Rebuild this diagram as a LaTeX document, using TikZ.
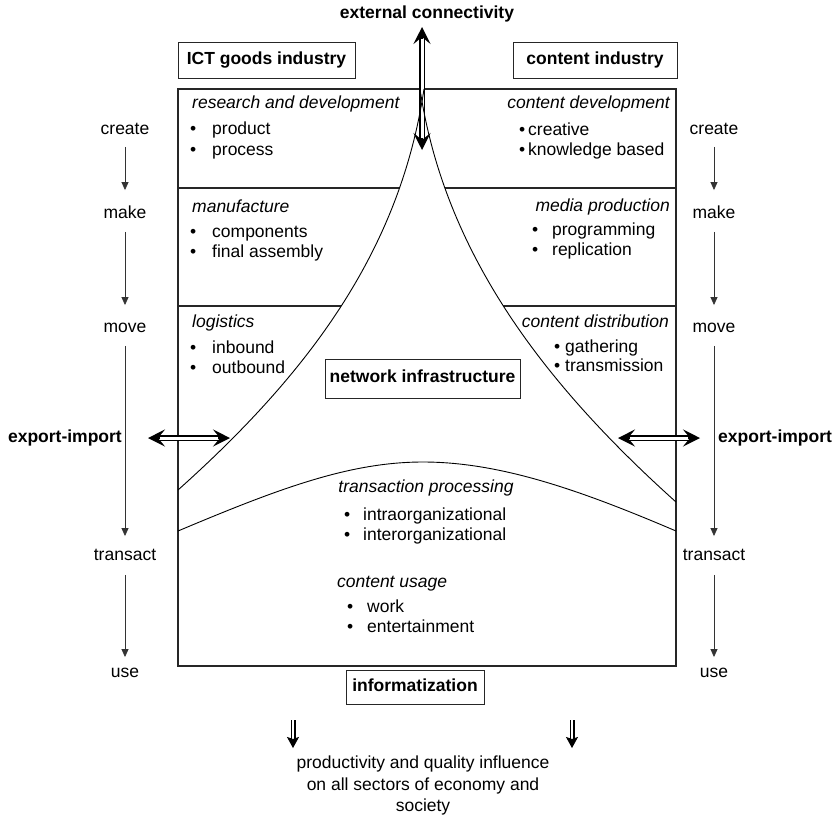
\documentclass[tikz,border=0pt]{standalone}
\usepackage{fontspec}
\setmainfont{Liberation Sans}
\usetikzlibrary{arrows.meta,calc}
\begin{document}
\begin{tikzpicture}[x=1pt,y=-1pt,
  txt/.style={font=\fontsize{17.5}{21}\selectfont, inner sep=0pt, text height=12pt, text depth=3.5pt},
  ital/.style={txt, font=\fontsize{17.5}{21}\selectfont\itshape},
  bold/.style={txt, font=\fontsize{17.5}{21}\selectfont\bfseries},
  bbox/.style={bold, draw=black!85, line width=1pt},
  frame/.style={draw=black!85, line width=1.1pt},
  curve/.style={draw=black, line width=0.9pt},
  colarrow/.style={draw=black!80, line width=0.8pt, -{Triangle[length=8pt,width=7pt]}},
  dbl/.style={draw=black, double=white, double distance=3pt, line width=1.5pt},
  bigtip/.style={draw=black, line width=1.4pt, -{Stealth[length=17pt,width=17pt,inset=7pt]}},
  smalldbl/.style={draw=black, double=white, double distance=2.8pt, line width=1.1pt},
  smalltip/.style={draw=black, line width=0.8pt, -{Stealth[length=11pt,width=12pt,inset=2pt]}}
]
\useasboundingbox (0,0) rectangle (838,817);

% dividers
\draw[frame] (178,188) -- (676,188);
\draw[frame] (178,306) -- (676,306);
% white cusp region hides the dividers
\fill[white] (178,490) .. controls (310,372) and (400,250) .. (424,89) -- (420,89) .. controls (444,250) and (540,380) .. (676,502) -- cycle;
% main frame
\draw[frame] (178,89) rectangle (676,666);

% vertical external connectivity arrow
\coordinate (vt) at (422,27);
\coordinate (vb) at (422,150);
\draw[dbl, shorten <=11pt, shorten >=11pt] (vt) -- (vb);
\draw[bigtip] ($(vt)+(0,12)$) -- (vt);
\draw[bigtip] ($(vb)+(0,-12)$) -- (vb);

% cusp curves
\draw[curve] (178,490) .. controls (310,372) and (400,250) .. (424,89);
\draw[curve] (676,502) .. controls (540,380) and (444,250) .. (420,89);
% lower arc
\draw[curve] (178,531) .. controls (280,488) and (350,462) .. (423,462) .. controls (500,462) and (580,490) .. (676,531);

% top labels
\node[bold] (ext) at (427,14) {external connectivity};
\node[bbox, minimum width=177pt, minimum height=36pt] (ict) at (266.5,60) {ICT goods industry};
\node[bbox, minimum width=164pt, minimum height=36pt] (cont) at (595,60) {content industry};

% left column texts
\node[ital, anchor=west] (rd) at (192,104) {research and development};
\node[txt, anchor=west] (rd1) at (190,130) {\makebox[22pt][l]{•}product};
\node[txt, anchor=west] (rd2) at (190,151) {\makebox[22pt][l]{•}process};
\node[ital, anchor=west] (mf) at (192,208) {manufacture};
\node[txt, anchor=west] (mf1) at (190,233) {\makebox[22pt][l]{•}components};
\node[txt, anchor=west] (mf2) at (190,253) {\makebox[22pt][l]{•}final assembly};
\node[ital, anchor=west] (lg) at (192,323) {logistics};
\node[txt, anchor=west] (lg1) at (190,349) {\makebox[22pt][l]{•}inbound};
\node[txt, anchor=west] (lg2) at (190,369) {\makebox[22pt][l]{•}outbound};

% right column texts
\node[ital, anchor=east] (cd) at (670,104) {content development};
\node[txt, anchor=west] (cd1) at (519,131) {\makebox[9pt][l]{•}creative};
\node[txt, anchor=west] (cd2) at (519,151) {\makebox[9pt][l]{•}knowledge based};
\node[ital, anchor=east] (mp) at (670,207) {media production};
\node[txt, anchor=west] (mp1) at (532,231) {\makebox[20pt][l]{•}programming};
\node[txt, anchor=west] (mp2) at (532,251) {\makebox[20pt][l]{•}replication};
\node[ital, anchor=east] (cdi) at (669,323) {content distribution};
\node[txt, anchor=west] (cdi1) at (554,348) {\makebox[11pt][l]{•}gathering};
\node[txt, anchor=west] (cdi2) at (554,367) {\makebox[11pt][l]{•}transmission};

% centre
\node[bbox, minimum width=195pt, minimum height=39pt] (net) at (422.5,378.5) {network infrastructure};
\node[ital] (tp) at (426,488) {transaction processing};
\node[txt, anchor=west] (tp1) at (344,516) {\makebox[19pt][l]{•}intraorganizational};
\node[txt, anchor=west] (tp2) at (344,536) {\makebox[19pt][l]{•}interorganizational};
\node[ital, anchor=west] (cu) at (337,583) {content usage};
\node[txt, anchor=west] (cu1) at (347,608) {\makebox[20pt][l]{•}work};
\node[txt, anchor=west] (cu2) at (347,628) {\makebox[20pt][l]{•}entertainment};

% left process column
\node[txt] (lc1) at (125,130) {create};
\node[txt] (lc2) at (125,214) {make};
\node[txt] (lc3) at (125,328) {move};
\node[txt] (lc4) at (125,556) {transact};
\node[txt] (lc5) at (125,673) {use};
\draw[colarrow, shorten <=9pt, shorten >=16pt] (lc1.south) -- (lc2.north);
\draw[colarrow, shorten <=10pt, shorten >=15pt] (lc2.south) -- (lc3.north);
\draw[colarrow, shorten <=10pt, shorten >=12pt] (lc3.south) -- (lc4.north);
\draw[colarrow, shorten <=11pt, shorten >=8pt] (lc4.south) -- (lc5.north);

% right process column
\node[txt] (rc1) at (714,130) {create};
\node[txt] (rc2) at (714,214) {make};
\node[txt] (rc3) at (714,328) {move};
\node[txt] (rc4) at (714,556) {transact};
\node[txt] (rc5) at (714,673) {use};
\draw[colarrow, shorten <=9pt, shorten >=16pt] (rc1.south) -- (rc2.north);
\draw[colarrow, shorten <=10pt, shorten >=15pt] (rc2.south) -- (rc3.north);
\draw[colarrow, shorten <=10pt, shorten >=12pt] (rc3.south) -- (rc4.north);
\draw[colarrow, shorten <=11pt, shorten >=8pt] (rc4.south) -- (rc5.north);

% export-import
\node[bold, anchor=east] (exl) at (122,438) {export-import};
\node[bold, anchor=west] (exr) at (718,438) {export-import};
\coordinate (eL1) at (148,438);
\coordinate (eL2) at (230,438);
\draw[dbl, shorten <=11pt, shorten >=11pt] (eL1) -- (eL2);
\draw[bigtip] ($(eL1)+(12,0)$) -- (eL1);
\draw[bigtip] ($(eL2)+(-12,0)$) -- (eL2);
\coordinate (eR1) at (618,438);
\coordinate (eR2) at (700,438);
\draw[dbl, shorten <=11pt, shorten >=11pt] (eR1) -- (eR2);
\draw[bigtip] ($(eR1)+(12,0)$) -- (eR1);
\draw[bigtip] ($(eR2)+(-12,0)$) -- (eR2);

% bottom
\node[bbox, minimum width=138pt, minimum height=34pt] (info) at (415,687) {informatization};
\coordinate (dL1) at (293,720);
\coordinate (dL2) at (293,748);
\coordinate (dR1) at (572,720);
\coordinate (dR2) at (572,748);
\draw[smalldbl, shorten >=8pt] (dL1) -- (dL2);
\draw[smalltip] ($(dL2)+(0,-8)$) -- (dL2);
\draw[smalldbl, shorten >=8pt] (dR1) -- (dR2);
\draw[smalltip] ($(dR2)+(0,-8)$) -- (dR2);
\node[txt] (bt1) at (423,764) {productivity and quality influence};
\node[txt] (bt2) at (423,786) {on all sectors of economy and};
\node[txt] (bt3) at (423,807) {society};
\end{tikzpicture}
\end{document}
